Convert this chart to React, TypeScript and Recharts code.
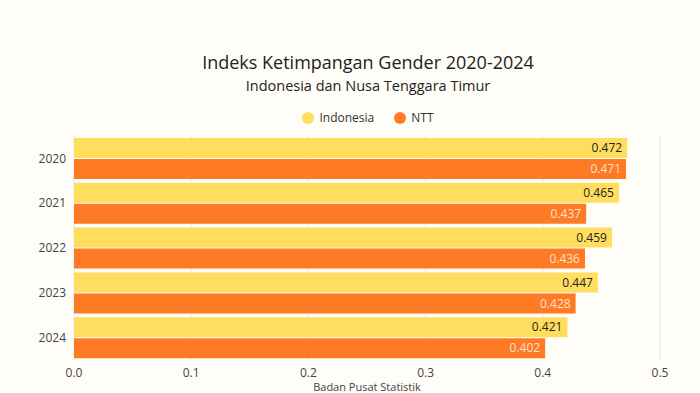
import React from 'react';
import { BarChart, Bar, XAxis, YAxis, CartesianGrid, LabelList } from 'recharts';

const years = ['2020', '2021', '2022', '2023', '2024'];
const indonesia = [0.472, 0.465, 0.459, 0.447, 0.421];
const ntt = [0.471, 0.437, 0.436, 0.428, 0.402];
const xTicks = [0, 0.1, 0.2, 0.3, 0.4, 0.5];

const data = years.map((year, i) => ({ year, indonesia: indonesia[i], ntt: ntt[i] }));

const FONT = '"Open Sans", "Noto Sans", sans-serif';
const YELLOW = '#FFDD5E';
const ORANGE = '#FF7A25';

const LegendDot = ({ color, label }: { color: string; label: string }) => (
  <span style={{ display: 'inline-flex', alignItems: 'center', margin: '0 10px' }}>
    <span style={{ width: 12, height: 12, borderRadius: 6, background: color, marginRight: 5 }} />
    <span style={{ fontSize: 12, color: '#333' }}>{label}</span>
  </span>
);

export default function App() {
  return (
    <div
      style={{
        position: 'absolute',
        left: 0,
        top: 0,
        width: 700,
        height: 393,
        background: '#FFFDF8',
        fontFamily: FONT,
        overflow: 'hidden',
      }}
    >
      <div style={{ position: 'absolute', top: 50, width: 736, textAlign: 'center', fontSize: 18, color: '#222' }}>
        Indeks Ketimpangan Gender 2020-2024
      </div>
      <div style={{ position: 'absolute', top: 76, width: 736, textAlign: 'center', fontSize: 14.5, color: '#222' }}>
        Indonesia dan Nusa Tenggara Timur
      </div>
      <div style={{ position: 'absolute', top: 109, width: 736, display: 'flex', justifyContent: 'center' }}>
        <LegendDot color={YELLOW} label="Indonesia" />
        <LegendDot color={ORANGE} label="NTT" />
      </div>
      <div style={{ position: 'absolute', left: 0, top: 0 }}>
        <BarChart
          width={700}
          height={393}
          data={data}
          layout="vertical"
          margin={{ top: 136, right: 40, bottom: 3, left: 8 }}
          barCategoryGap={2}
          barGap={1}
        >
          <CartesianGrid stroke="#E6E6E6" horizontal={false} />
          <XAxis
            type="number"
            domain={[0, 0.5]}
            ticks={xTicks}
            tickFormatter={(v: number) => v.toFixed(1)}
            axisLine={false}
            tickLine={false}
            tick={{ fill: '#444', fontSize: 12, fontFamily: FONT }}
            label={{ value: 'Badan Pusat Statistik', position: 'insideBottom', offset: -1, fill: '#444', fontSize: 11, fontFamily: FONT }}
          />
          <YAxis
            type="category"
            dataKey="year"
            width={66}
            axisLine={false}
            tickLine={false}
            tick={{ fill: '#444', fontSize: 12, fontFamily: FONT }}
          />
          <Bar dataKey="indonesia" name="Indonesia" fill={YELLOW} barSize={20} isAnimationActive={false}>
            <LabelList dataKey="indonesia" position="insideRight" fill="#222" fontSize={12} fontFamily={FONT} />
          </Bar>
          <Bar dataKey="ntt" name="NTT" fill={ORANGE} barSize={20} isAnimationActive={false}>
            <LabelList dataKey="ntt" position="insideRight" fill="#FFE2CC" fontSize={12} fontFamily={FONT} />
          </Bar>
        </BarChart>
      </div>
    </div>
  );
}
